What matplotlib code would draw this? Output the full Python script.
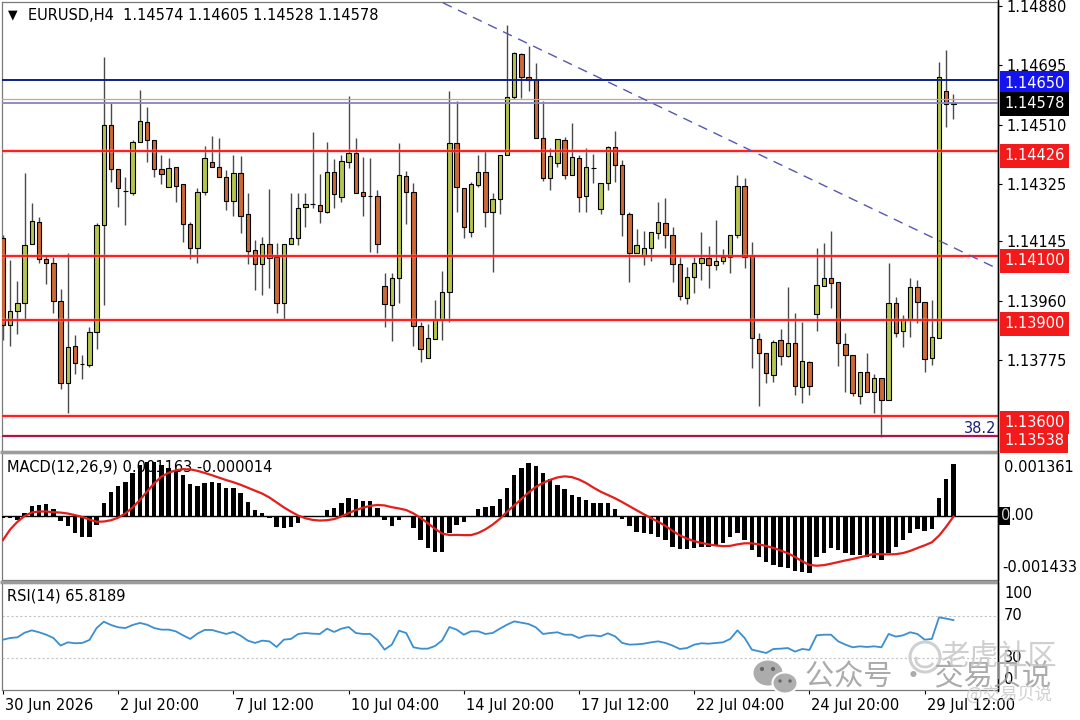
import numpy as np
import matplotlib
matplotlib.use("Agg")
import matplotlib.pyplot as plt
import matplotlib.transforms as mtransforms
from matplotlib.patches import Ellipse, Circle, Rectangle, Arc

plt.rcParams['font.family'] = ['DejaVu Sans']

# ---------------- data ----------------
title_text = "EURUSD,H4  1.14574 1.14605 1.14528 1.14578"

opens = [
    1.14156, 1.13884, 1.13929, 1.13954, 1.14137, 1.14207, 1.14090, 1.14079, 1.13960, 1.13703,
    1.13819, 1.13763, 1.13759, 1.13862, 1.14196, 1.14509, 1.14371, 1.14303, 1.14296, 1.14455,
    1.14518, 1.14462, 1.14371, 1.14315, 1.14377, 1.14324, 1.14200, 1.14125, 1.14299, 1.14393,
    1.14377, 1.14346, 1.14271, 1.14359, 1.14231, 1.14118, 1.14075, 1.14137, 1.14097, 1.13953,
    1.14137, 1.14156, 1.14253, 1.14262, 1.14259, 1.14237, 1.14362, 1.14284, 1.14393, 1.14421,
    1.14299, 1.14287, 1.14287, 1.14006, 1.13947, 1.14031, 1.14349, 1.14299, 1.13881, 1.13781,
    1.13841, 1.13900, 1.13987, 1.14452, 1.14312, 1.14175, 1.14321, 1.14362, 1.14237, 1.14278,
    1.14415, 1.14596, 1.14730, 1.14658, 1.14649, 1.14468, 1.14343, 1.14390, 1.14462, 1.14352,
    1.14406, 1.14287, 1.14374, 1.14246, 1.14328, 1.14440, 1.14384, 1.14231, 1.14109, 1.14100,
    1.14125, 1.14171, 1.14203, 1.14165, 1.14075, 1.13968, 1.14034, 1.14078, 1.14093, 1.14072,
    1.14084, 1.14097, 1.14165, 1.14318, 1.14100, 1.13841, 1.13797, 1.13728, 1.13837, 1.13787,
    1.13828, 1.13691, 1.13769, 1.13918, 1.14006, 1.14031, 1.14018, 1.13825, 1.13791, 1.13663,
    1.13738, 1.13675, 1.13719, 1.13650, 1.13953, 1.13866, 1.13903, 1.14003, 1.13956, 1.13781,
    1.13844, 1.14615, 1.14574]

highs = [
    1.14165, 1.14087, 1.14022, 1.14360, 1.14266, 1.14221, 1.14103, 1.14097, 1.13998, 1.14109,
    1.13853, 1.13791, 1.13878, 1.14203, 1.14722, 1.14577, 1.14371, 1.14346, 1.14462, 1.14618,
    1.14565, 1.14462, 1.14415, 1.14406, 1.14377, 1.14324, 1.14206, 1.14312, 1.14443, 1.14474,
    1.14468, 1.14368, 1.14415, 1.14412, 1.14296, 1.14150, 1.14159, 1.14309, 1.14140, 1.14137,
    1.14296, 1.14296, 1.14296, 1.14487, 1.14356, 1.14455, 1.14402, 1.14415, 1.14599, 1.14468,
    1.14409, 1.14406, 1.14306, 1.14047, 1.14047, 1.14452, 1.14365, 1.14328, 1.13894, 1.13887,
    1.13962, 1.14053, 1.14615, 1.14583, 1.14312, 1.14331, 1.14415, 1.14431, 1.14296, 1.14415,
    1.14821, 1.14736, 1.14734, 1.14755, 1.14702, 1.14583, 1.14437, 1.14465, 1.14471, 1.14515,
    1.14415, 1.14437, 1.14418, 1.14328, 1.14443, 1.14490, 1.14399, 1.14237, 1.14184, 1.14178,
    1.14175, 1.14268, 1.14281, 1.14190, 1.14097, 1.14065, 1.14097, 1.14175, 1.14131, 1.14212,
    1.14121, 1.14165, 1.14352, 1.14343, 1.14143, 1.13859, 1.13797, 1.13837, 1.13872, 1.14003,
    1.13922, 1.13894, 1.13772, 1.14125, 1.14140, 1.14178, 1.14018, 1.13859, 1.13791, 1.13738,
    1.13797, 1.13731, 1.13719, 1.14078, 1.13972, 1.13915, 1.14031, 1.14025, 1.13956, 1.13962,
    1.14705, 1.14743, 1.14605]

lows = [
    1.13837, 1.13819, 1.13856, 1.13900, 1.14137, 1.14078, 1.14012, 1.13923, 1.13684, 1.13610,
    1.13731, 1.13716, 1.13753, 1.13809, 1.13947, 1.14331, 1.14253, 1.14196, 1.14290, 1.14455,
    1.14393, 1.14346, 1.14324, 1.14315, 1.14268, 1.14143, 1.14090, 1.14078, 1.14290, 1.14377,
    1.14346, 1.14243, 1.14225, 1.14171, 1.14075, 1.13994, 1.13978, 1.14000, 1.13922, 1.13900,
    1.14137, 1.14134, 1.14190, 1.14249, 1.14203, 1.14234, 1.14249, 1.14268, 1.14374, 1.14296,
    1.14225, 1.14112, 1.14109, 1.13878, 1.13834, 1.13953, 1.14200, 1.13819, 1.13769, 1.13781,
    1.13841, 1.13837, 1.13894, 1.14237, 1.14156, 1.14159, 1.14315, 1.14190, 1.14050, 1.14231,
    1.14415, 1.14590, 1.14593, 1.14615, 1.14468, 1.14334, 1.14306, 1.14377, 1.14340, 1.14352,
    1.14237, 1.14237, 1.14328, 1.14231, 1.14306, 1.14331, 1.14162, 1.14018, 1.14109, 1.14072,
    1.14084, 1.14153, 1.14125, 1.14018, 1.13962, 1.13950, 1.13984, 1.14025, 1.14000, 1.14056,
    1.14075, 1.14047, 1.14156, 1.14062, 1.13750, 1.13631, 1.13703, 1.13706, 1.13759, 1.13784,
    1.13666, 1.13641, 1.13666, 1.13865, 1.14006, 1.13937, 1.13756, 1.13675, 1.13663, 1.13638,
    1.13675, 1.13610, 1.13534, 1.13650, 1.13847, 1.13816, 1.13847, 1.13890, 1.13738, 1.13759,
    1.13844, 1.14502, 1.14528]

closes = [
    1.13884, 1.13929, 1.13954, 1.14134, 1.14209, 1.14090, 1.14078, 1.13960, 1.13703, 1.13817,
    1.13766, 1.13762, 1.13862, 1.14196, 1.14509, 1.14371, 1.14312, 1.14302, 1.14455, 1.14521,
    1.14462, 1.14371, 1.14356, 1.14374, 1.14318, 1.14200, 1.14125, 1.14299, 1.14406, 1.14377,
    1.14346, 1.14271, 1.14359, 1.14225, 1.14115, 1.14075, 1.14137, 1.14093, 1.13953, 1.14137,
    1.14156, 1.14249, 1.14262, 1.14261, 1.14240, 1.14362, 1.14293, 1.14396, 1.14421, 1.14296,
    1.14287, 1.14286, 1.14137, 1.13950, 1.14031, 1.14352, 1.14299, 1.13881, 1.13809, 1.13844,
    1.13900, 1.13987, 1.14452, 1.14315, 1.14190, 1.14324, 1.14362, 1.14237, 1.14278, 1.14415,
    1.14596, 1.14733, 1.14658, 1.14649, 1.14468, 1.14343, 1.14412, 1.14465, 1.14352, 1.14409,
    1.14284, 1.14377, 1.14375, 1.14328, 1.14440, 1.14384, 1.14231, 1.14109, 1.14134, 1.14125,
    1.14175, 1.14206, 1.14165, 1.14075, 1.13975, 1.14034, 1.14078, 1.14093, 1.14072, 1.14084,
    1.14097, 1.14165, 1.14318, 1.14097, 1.13844, 1.13797, 1.13734, 1.13831, 1.13787, 1.13828,
    1.13694, 1.13772, 1.13694, 1.14009, 1.14031, 1.14015, 1.13828, 1.13791, 1.13672, 1.13738,
    1.13675, 1.13719, 1.13650, 1.13953, 1.13859, 1.13903, 1.14003, 1.13956, 1.13778, 1.13847,
    1.14658, 1.14574, 1.14578]

# MACD(12,26,9) in millionths
macd_main_e6 = [
    -37, -52, -89, 60, 231, 246, 268, 157, -104, -224,
    -373, -462, -462, -201, 283, 529, 671, 753, 969, 1141,
    1215, 1215, 1141, 1066, 1014, 917, 708, 671, 731, 753,
    731, 634, 634, 507, 321, 134, 60, -52, -239, -261,
    -239, -149, -30, -15, 8, 134, 172, 298, 395, 373,
    336, 336, 172, -89, -224, -89, -15, -276, -537, -723,
    -798, -798, -373, -201, -127, -15, 149, 194, 224, 373,
    619, 917, 1066, 1193, 1119, 955, 820, 693, 597, 470,
    418, 358, 283, 298, 298, 149, -75, -224, -350, -388,
    -410, -462, -537, -701, -746, -746, -723, -701, -686, -641,
    -597, -477, -388, -537, -761, -925, -1022, -1096, -1133, -1171,
    -1223, -1245, -1283, -910, -820, -723, -761, -820, -872, -872,
    -910, -947, -984, -835, -686, -537, -388, -298, -328, -298,
    395, 828, 1163]

macd_signal_e6 = [
    -537, -300, -130, 0, 80, 100, 100, 85, 76, 55,
    19, -22, -80, -128, -124, -95, -38, 57, 190, 358,
    544, 731, 880, 967, 1021, 1048, 1043, 1010, 964, 913,
    859, 803, 755, 698, 632, 568, 501, 414, 303, 193,
    96, 9, -51, -88, -102, -94, -69, -9, 64, 132,
    186, 226, 247, 236, 197, 168, 133, 58, -43, -161,
    -287, -394, -426, -423, -428, -428, -380, -299, -194, -64,
    94, 237, 378, 524, 650, 740, 810, 862, 887, 870,
    815, 736, 635, 544, 471, 396, 311, 219, 128, 39,
    -47, -129, -222, -333, -433, -507, -563, -602, -635, -660,
    -675, -669, -634, -611, -612, -635, -670, -716, -771, -834,
    -917, -1013, -1095, -1112, -1100, -1067, -1030, -995, -962, -923,
    -886, -848, -857, -858, -854, -829, -781, -717, -657, -589,
    -440, -239, -14]

rsi14 = [
    47.3, 48.9, 49.5, 53.9, 56.1, 54.3, 52.0, 48.9, 41.7, 44.8,
    43.9, 44.2, 47.0, 58.3, 64.3, 61.2, 59.0, 58.3, 61.2, 63.1,
    61.5, 58.3, 56.8, 56.8, 55.2, 51.4, 48.0, 53.0, 56.5, 56.5,
    54.6, 52.7, 54.6, 51.1, 46.4, 44.2, 46.4, 45.7, 40.4, 47.3,
    48.0, 52.7, 53.6, 53.0, 52.7, 57.7, 54.6, 57.7, 59.3, 53.6,
    52.7, 52.7, 47.0, 37.9, 42.6, 55.8, 53.6, 40.1, 38.8, 38.8,
    41.3, 46.7, 59.3, 56.8, 52.0, 55.2, 55.2, 52.7, 53.6, 57.7,
    61.5, 64.6, 63.4, 62.1, 59.0, 52.7, 53.6, 54.3, 52.0, 52.0,
    48.9, 51.1, 51.4, 50.5, 53.3, 50.5, 44.2, 42.6, 42.9, 43.5,
    44.8, 45.7, 44.2, 41.7, 38.5, 39.4, 42.6, 43.9, 43.5, 44.2,
    44.8, 48.0, 56.1, 48.9, 37.9, 36.3, 34.7, 38.5, 38.8, 39.4,
    36.0, 38.5, 37.6, 51.4, 52.0, 52.0, 45.7, 42.6, 40.1, 41.0,
    40.4, 41.0, 40.1, 52.7, 50.2, 51.4, 54.3, 52.7, 47.3, 48.0,
    68.4, 67.2, 65.82]

price_ticks = [1.14880, 1.14695, 1.14510, 1.14325, 1.14145, 1.13960, 1.13775]
date_tick_bars = [0, 16, 32, 48, 64, 80, 96, 112, 128]
date_tick_labels = ["30 Jun 2026", "2 Jul 20:00", "7 Jul 12:00", "10 Jul 04:00",
                    "14 Jul 20:00", "17 Jul 12:00", "22 Jul 04:00", "24 Jul 20:00",
                    "29 Jul 12:00"]

blue_level = 1.14650
red_levels = [1.14426, 1.14100, 1.13900, 1.13600]
fib_level = 1.13538
fib_text = "38.2"
bid_price = 1.14578
ask_price = 1.14590
trend_bars = [61.1, 138.5]
trend_prices = [1.14890, 1.14056]

macd_title = "MACD(12,26,9) 0.001163 -0.000014"
rsi_title = "RSI(14) 65.8189"
macd_axis_labels = ["0.001361", "0", ".00", "-0.001433"]
rsi_axis_labels = ["100", "70", "30", "0"]
rsi_levels = [70, 30]

# ---------------- figure layout ----------------
W, H = 1080, 720
fig = plt.figure(figsize=(W / 100, H / 100), dpi=100)
fig.patch.set_facecolor('white')


def rect(l, t, r, b):
    return [l / W, 1 - b / H, (r - l) / W, (b - t) / H]


ax = fig.add_axes(rect(2, 2, 998, 451))
axm = fig.add_axes(rect(2, 453, 998, 580))
axr = fig.add_axes(rect(2, 583, 998, 690))

n = len(opens)
x = np.arange(n)
XL = (-0.14, 138.19)
FS = 10.5

for a in (ax, axm, axr):
    a.set_xlim(*XL)
    for s in ('left', 'top', 'bottom'):
        a.spines[s].set_color('#7a7a7a')
        a.spines[s].set_linewidth(0.9)
    a.spines['right'].set_color('black')
    a.spines['right'].set_linewidth(1.0)
    a.tick_params(axis='both', which='both', left=False, labelleft=False)

# ---------------- main price panel ----------------
o = np.array(opens)
hh = np.array(highs)
ll = np.array(lows)
c = np.array(closes)
up = c >= o
bull_col = '#b5c54d'
bear_col = '#cd6937'

ax.vlines(x, ll, hh, color='#4a4a4a', lw=1.0, zorder=2)
body_lo = np.minimum(o, c)
body_h = np.maximum(np.abs(c - o), 0.000004)
ax.bar(x, body_h, bottom=body_lo, width=0.6,
       color=np.where(up, bull_col, bear_col), edgecolor='black',
       linewidth=0.8, zorder=3)

ax.set_ylim(1.13491, 1.148925)

# horizontal levels
for lv in red_levels:
    ax.axhline(lv, color='#ff9a9a', lw=3.2, alpha=0.35, zorder=4)
    ax.axhline(lv, color='#ff1a1a', lw=1.4, zorder=4)
ax.axhline(fib_level, color='#ff9a9a', lw=3.0, alpha=0.3, zorder=4)
ax.axhline(fib_level, color='#a8104a', lw=1.4, zorder=4)
ax.axhline(blue_level, color='#0b1f8c', lw=1.4, zorder=4)
ax.axhline(ask_price, color='#e0a060', lw=0.9, zorder=4)
ax.axhline(bid_price, color='#8585c6', lw=1.3, zorder=4)

# trend line (dashed)
ax.plot(trend_bars, trend_prices, color='#5656b4', lw=1.0,
        ls=(0, (7, 5)), zorder=4)

ax.text(0.998, fib_level, fib_text,
        transform=mtransforms.blended_transform_factory(ax.transAxes, ax.transData),
        ha='right', va='bottom', fontsize=FS, color='#1c1c78', zorder=5)

# right price scale
ax.yaxis.tick_right()
ax.set_yticks(price_ticks)
ax.set_yticklabels([f"{p:.5f}" for p in price_ticks])
ax.tick_params(axis='y', right=True, labelright=True, length=3, width=0.8,
               pad=3, labelsize=FS, direction='out')
ax.set_xticks([])


def price_box(axis, y, text, fc, dy_px):
    axis.annotate(text, xy=(1.0, y), xycoords=('axes fraction', 'data'),
                  xytext=(4.3, -dy_px * 0.72), textcoords='offset points',
                  ha='left', va='center', fontsize=FS, color='white',
                  bbox=dict(boxstyle='square,pad=0.3', fc=fc, ec='none'),
                  annotation_clip=False, zorder=7)


price_box(ax, blue_level, f"{blue_level:.5f}", '#1414f0', 3.5)
price_box(ax, bid_price, f"{bid_price:.5f}", '#000000', 1.0)
red_offsets = [4.5, 5.0, 4.0, 6.5]
for lv, dy in zip(red_levels, red_offsets):
    price_box(ax, lv, f"{lv:.5f}", '#f21a1a', dy)
price_box(ax, fib_level, f"{fib_level:.5f}", '#f21a1a', 5.0)

# title
ax.text((8 - 2) / 996, 1 - (15 - 2) / 449, '\u25BC', transform=ax.transAxes,
        fontsize=9, va='center', ha='left', color='black', zorder=6)
ax.text((28 - 2) / 996, 1 - (15 - 2) / 449, title_text, transform=ax.transAxes,
        fontsize=FS, va='center', ha='left', color='black', zorder=6)

# ---------------- MACD panel ----------------
hist = np.array(macd_main_e6) * 1e-6
sig = np.array(macd_signal_e6) * 1e-6
axm.text((7 - 2) / 996, (580 - 467) / 127, macd_title, transform=axm.transAxes,
         fontsize=FS, va='center', ha='left', zorder=1)
axm.bar(x, hist, width=0.62, color='black', zorder=3)
axm.axhline(0, color='black', lw=1.0, zorder=2)
axm.plot(x, sig, color='#e41e1a', lw=1.6, zorder=4)
axm.set_ylim(-0.001432, 0.001409)
axm.set_xticks([])
axm.set_yticks([])

# ---------------- RSI panel ----------------
axr.text((7 - 2) / 996, (690 - 596) / 107, rsi_title, transform=axr.transAxes,
         fontsize=FS, va='center', ha='left', zorder=1)
for lv in rsi_levels:
    axr.axhline(lv, color='#c4c4c4', lw=0.8, ls=(0, (2, 2)), zorder=1)
axr.plot(x, rsi14, color='#3a8fd0', lw=1.3, zorder=3)
axr.set_ylim(-0.3, 100.9)
axr.set_yticks([])
axr.set_xticks(date_tick_bars)
axr.set_xticklabels(date_tick_labels)
axr.tick_params(axis='x', length=3, width=0.8, pad=3, labelsize=FS,
                direction='out', color='black')
shift = mtransforms.ScaledTranslation(2 / 100, 0, fig.dpi_scale_trans)
for lbl in axr.get_xticklabels():
    lbl.set_horizontalalignment('left')
    lbl.set_transform(lbl.get_transform() + shift)

# ---------------- overlay (pixel coordinates) ----------------
ov = fig.add_axes([0, 0, 1, 1], zorder=10)
ov.set_xlim(0, W)
ov.set_ylim(H, 0)
ov.axis('off')
ov.patch.set_alpha(0)

# panel separators and right scale border
ov.plot([0, 998], [452, 452], color='#9c9c9c', lw=2.4, solid_capstyle='butt')
ov.plot([0, 998], [581.5, 581.5], color='#9c9c9c', lw=2.4, solid_capstyle='butt')
ov.plot([998, 998], [0, 691], color='black', lw=1.0)

# MACD scale labels
ov.text(1004, 467, macd_axis_labels[0], fontsize=FS, va='center', ha='left')
ov.add_patch(Rectangle((999, 507), 11, 18, fc='black', ec='none'))
ov.text(1001, 516, macd_axis_labels[1], fontsize=FS, va='center', ha='left', color='#d0d0d0')
ov.text(1010.5, 516, macd_axis_labels[2], fontsize=FS, va='center', ha='left')
ov.text(1002, 568, macd_axis_labels[3], fontsize=FS, va='center', ha='left')

# RSI scale labels
for txt, yp in zip(rsi_axis_labels, [593, 616, 657, 680]):
    ov.text(1004, yp, txt, fontsize=FS, va='center', ha='left')

# watermark
cjk = ['Noto Sans CJK SC', 'DejaVu Sans']
ov.add_patch(Ellipse((768, 673), 29, 25, fc='#a3a3a3', ec='none', alpha=0.9))
ov.add_patch(Ellipse((785, 683), 25, 21, fc='#ababab', ec='white', lw=1.5, alpha=0.95))
for cx, cy, r in [(762, 669, 2.1), (773, 669, 2.1), (780, 681, 1.7), (790, 681, 1.7)]:
    ov.add_patch(Circle((cx, cy), r, fc='#666666', ec='none'))
ov.text(805, 677, "公众号 · 交易贝说", family=cjk, fontsize=21, color='#9c9c9c',
        alpha=0.85, va='center', ha='left')
ov.add_patch(Circle((925, 657), 15, fill=False, ec='#c8c8c8', lw=2.2, alpha=0.85))
ov.add_patch(Arc((925, 660), 18, 14, theta1=20, theta2=200, color='#c8c8c8', lw=2.0, alpha=0.85))
ov.text(940, 657, "老虎社区", family=cjk, fontsize=21, color='#c4c4c4',
        alpha=0.8, va='center', ha='left')
ov.text(966, 695, "@交易贝说", family=cjk, fontsize=12.5, color='#cbcbcb',
        alpha=0.9, va='center', ha='left')

fig.savefig("out.png", dpi=100, facecolor='white')
